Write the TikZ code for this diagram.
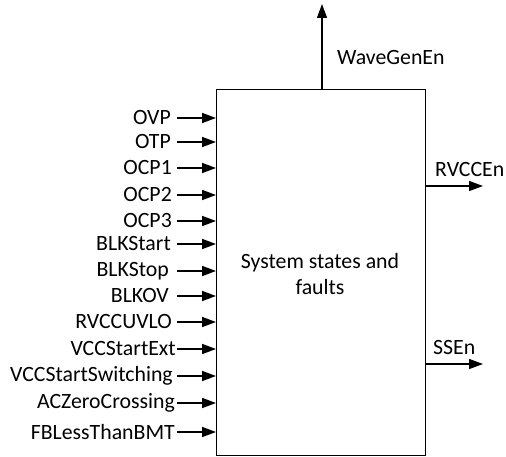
\documentclass[tikz,border=0pt]{standalone}
\usepackage{fontspec}
\setmainfont{Carlito}
\usetikzlibrary{arrows.meta}
\begin{document}
\begin{tikzpicture}[x=1pt,y=-1pt,
  lbl/.style={font=\fontsize{21.8}{26}\selectfont, inner sep=0pt},
  sig/.style={line width=1.6pt, -{Triangle[length=14pt,width=10pt]}},
  outsig/.style={line width=1.3pt, -{Triangle[length=14pt,width=10pt]}}]
\useasboundingbox (0,0) rectangle (506,457);
\node[draw, line width=1.3pt, minimum width=209pt, minimum height=366pt, inner sep=0pt, anchor=north west] (box) at (216,89) {};
\node[lbl, align=center] (title) at (320,274) {System states and\\faults};
\foreach \name/\yy/\xe in {OVP/118/171, OTP/142/171, OCP1/168/172, OCP2/195/172, OCP3/221/172, BLKStart/244/171, BLKStop/271/169, BLKOV/296/169, RVCCUVLO/322/172, VCCStartExt/349/176, VCCStartSwitching/376/173, ACZeroCrossing/403/175, FBLessThanBMT/432/175}{
  \node[lbl, anchor=east] (l\name) at (\xe,\yy) {\name};
  \coordinate (s\name) at (177,\yy);
  \coordinate (e\name) at (216,\yy);
  \draw[sig] (s\name) -- (e\name);
}
\coordinate (wgs) at (322,89);
\coordinate (wge) at (322,4);
\draw[outsig] (wgs) -- (wge);
\node[lbl, anchor=west] (wg) at (337,58) {WaveGenEn};
\coordinate (rvs) at (425,186);
\coordinate (rve) at (483,186);
\draw[outsig] (rvs) -- (rve);
\node[lbl, anchor=west] (rv) at (435,170) {RVCCEn};
\coordinate (sss) at (425,364);
\coordinate (sse) at (483,364);
\draw[outsig] (sss) -- (sse);
\node[lbl, anchor=west] (ss) at (433,347) {SSEn};
\end{tikzpicture}
\end{document}
